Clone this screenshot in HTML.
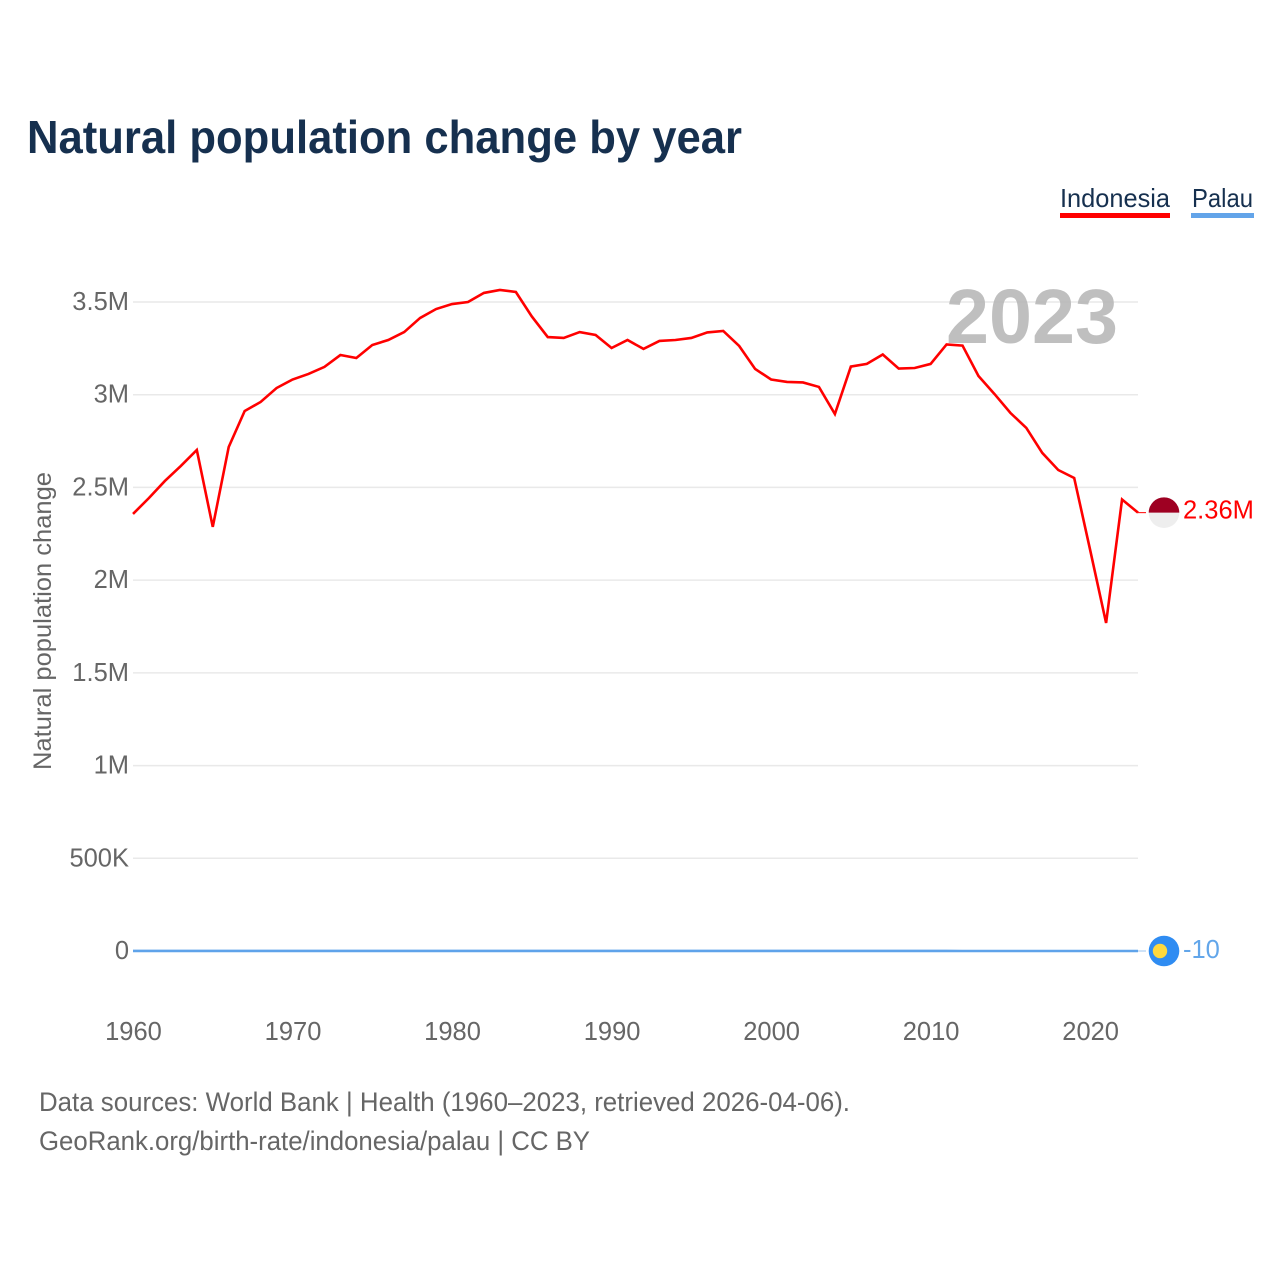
<!DOCTYPE html>
<html lang="en">
<head>
<meta charset="utf-8">
<title>Natural population change by year</title>
<style>
html,body{margin:0;padding:0;background:#fff;}
svg{display:block;font-family:"Liberation Sans",sans-serif;}
</style>
</head>
<body>
<svg id="chart" xmlns="http://www.w3.org/2000/svg" width="1280" height="1280" viewBox="0 0 1280 1280">
  <rect x="0" y="0" width="1280" height="1280" fill="#ffffff"/>
  <text x="27" y="153" font-size="46" font-weight="700" fill="#16304f" textLength="715" lengthAdjust="spacingAndGlyphs">Natural population change by year</text>

  <g>
    <g>
      <text x="1060" y="207" font-size="26" fill="#16304f" textLength="110" lengthAdjust="spacingAndGlyphs">Indonesia</text>
      <rect x="1060" y="213" width="110" height="5" fill="#ff0000"/>
    </g>
    <g>
      <text x="1192" y="207" font-size="26" fill="#16304f" textLength="61" lengthAdjust="spacingAndGlyphs">Palau</text>
      <rect x="1191" y="213" width="63" height="5" fill="#63a4e9"/>
    </g>
  </g>

  <text transform="translate(51,621) rotate(-90)" text-anchor="middle" font-size="25" fill="#666666" textLength="298" lengthAdjust="spacingAndGlyphs">Natural population change</text>

  <g id="grid"></g>
  <g id="yticks"></g>
  <g id="xticks"></g>

  <text x="946" y="343" font-size="77" font-weight="700" fill="#b4b4b4" fill-opacity="0.85" textLength="172" lengthAdjust="spacingAndGlyphs">2023</text>

  <g id="series"></g>
  <g id="markers"></g>

  <text x="39" y="1111" font-size="27" fill="#666666" textLength="811" lengthAdjust="spacingAndGlyphs">Data sources: World Bank | Health (1960–2023, retrieved 2026-04-06).</text>
  <text x="39" y="1150" font-size="27" fill="#666666" textLength="551" lengthAdjust="spacingAndGlyphs">GeoRank.org/birth-rate/indonesia/palau | CC BY</text>
</svg>
<script>
const years = [1960,1961,1962,1963,1964,1965,1966,1967,1968,1969,
  1970,1971,1972,1973,1974,1975,1976,1977,1978,1979,
  1980,1981,1982,1983,1984,1985,1986,1987,1988,1989,
  1990,1991,1992,1993,1994,1995,1996,1997,1998,1999,
  2000,2001,2002,2003,2004,2005,2006,2007,2008,2009,
  2010,2011,2012,2013,2014,2015,2016,2017,2018,2019,
  2020,2021,2022,2023];
const indonesiaValues = [2357000,2443000,2535000,2616000,2702000,2287000,2718000,2912000,2961000,3036000,
  3082000,3112000,3150000,3214000,3198000,3268000,3295000,3338000,3414000,3462000,
  3489000,3500000,3549000,3565000,3554000,3422000,3311000,3306000,3338000,3322000,
  3252000,3295000,3247000,3290000,3295000,3306000,3336000,3344000,3263000,3139000,
  3082000,3069000,3066000,3042000,2896000,3152000,3166000,3217000,3141000,3144000,
  3166000,3271000,3265000,3101000,3004000,2902000,2821000,2686000,2594000,2551000,
  2163000,1769000,2435000,2364000];
const palauValues = [230,240,250,260,270,260,270,280,280,290,
  280,270,270,260,260,250,250,240,240,250,
  250,260,260,270,270,280,280,270,270,260,
  270,280,270,260,250,250,240,230,220,210,
  200,190,180,170,160,150,140,130,120,110,
  100,90,80,60,50,40,30,20,10,5,
  -5,-20,-15,-10];
const yTickValues = [0,500000,1000000,1500000,2000000,2500000,3000000,3500000];
const yTickLabels = ['0','500K','1M','1.5M','2M','2.5M','3M','3.5M'];
const xTickYears = [1960,1970,1980,1990,2000,2010,2020];

const NS = 'http://www.w3.org/2000/svg';
const xScale = function (year) { return 133 + (year - 1960) * (1138 - 133) / 63; };
const yScale = function (value) { return 951 - value * (951 - 302) / 3500000; };

function make(tag, attrs, parent, text) {
  const el = document.createElementNS(NS, tag);
  Object.keys(attrs).forEach(function (k) { el.setAttribute(k, attrs[k]); });
  if (text !== undefined) el.textContent = text;
  parent.appendChild(el);
  return el;
}
function linePath(values) {
  return values.map(function (v, i) {
    return (i ? 'L' : 'M') + xScale(years[i]).toFixed(2) + ' ' + yScale(v).toFixed(2);
  }).join(' ');
}
function formatValue(v) {
  const a = Math.abs(v);
  if (a >= 1000000) return (v / 1000000).toFixed(2) + 'M';
  if (a >= 1000) return (v / 1000).toFixed(0) + 'K';
  return String(v);
}

const grid = document.getElementById('grid');
const yticks = document.getElementById('yticks');
const xticks = document.getElementById('xticks');
const series = document.getElementById('series');
const markers = document.getElementById('markers');

yTickValues.forEach(function (v, i) {
  if (v !== 0) {
    const gl = make('line', {x1: 133, x2: 1138, y1: yScale(v), y2: yScale(v), stroke: '#e9e9e9', 'stroke-width': 1.5}, grid);
    
    
  }
  const t = make('text', {x: 129, y: yScale(v) + 8, 'text-anchor': 'end', 'font-size': 25.5, fill: '#666666'}, yticks, yTickLabels[i]);
  
  
});

xTickYears.forEach(function (y) {
  const t = make('text', {x: xScale(y) + 0.5, y: 1040, 'text-anchor': 'middle', 'font-size': 25.5, fill: '#666666'}, xticks, String(y));
  
  
});

const idLine = make('path', {d: linePath(indonesiaValues), fill: 'none', stroke: '#ff0000', 'stroke-width': 2.6, 'stroke-linejoin': 'miter'}, series);



const paLine = make('path', {d: linePath(palauValues), fill: 'none', stroke: '#5fa3ea', 'stroke-width': 2.6}, series);



const idLast = indonesiaValues[indonesiaValues.length - 1];
const paLast = palauValues[palauValues.length - 1];
const idY = yScale(idLast);
const paY = yScale(paLast);
const endX = xScale(years[years.length - 1]);

const idConn = make('line', {x1: endX, x2: endX + 8, y1: idY, y2: idY, stroke: '#ff0000', 'stroke-width': 1}, markers);



const paConn = make('line', {x1: endX, x2: endX + 8, y1: paY, y2: paY, stroke: '#9cc4ef', 'stroke-width': 1}, markers);



const idFlag = make('g', {}, markers);


make('circle', {cx: 1164, cy: idY, r: 15.3, fill: '#eeeeee'}, idFlag);
make('path', {d: 'M1148.7 ' + idY + ' A15.3 15.3 0 0 1 1179.3 ' + idY + ' Z', fill: '#9e0022'}, idFlag);

const idLabel = make('text', {x: 1183, y: idY + 6, 'font-size': 25.5, fill: '#ff0000'}, markers, formatValue(idLast));



const paFlag = make('g', {}, markers);


make('circle', {cx: 1164, cy: paY, r: 15.3, fill: '#2f8cf2'}, paFlag);
make('circle', {cx: 1160, cy: paY, r: 7.2, fill: '#ffd83d'}, paFlag);

const paLabel = make('text', {x: 1183, y: paY + 7, 'font-size': 25.5, fill: '#62a6ea'}, markers, formatValue(paLast));


</script>
</body>
</html>
